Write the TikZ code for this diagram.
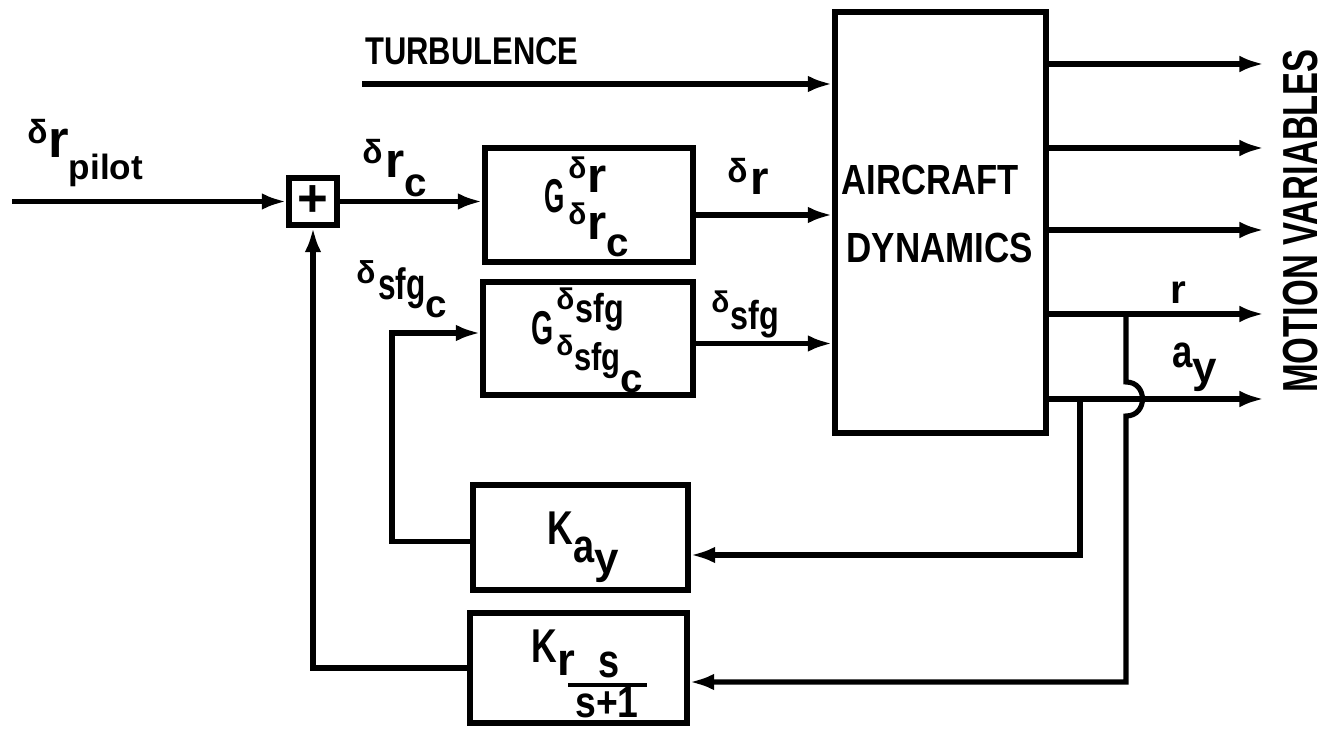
\documentclass[tikz,border=0pt]{standalone}
\usepackage{fontspec}
\setmainfont{Liberation Sans}
\usepackage{graphicx}
\usetikzlibrary{arrows.meta,calc}
\newcommand\fs[1]{\fontsize{#1}{#1}\selectfont}
\newcommand\sx[2]{\scalebox{#1}[1]{#2}}
\newcommand\dlt[2]{\raisebox{#1}{\fs{#2}δ}}
\newcommand\low[3]{\raisebox{-#1}{\fs{#2}#3}}
\begin{document}
\begin{tikzpicture}[x=0.02cm,y=-0.02cm,
  blk/.style={draw,line width=3pt,inner sep=0pt,rectangle},
  wire/.style={line width=2.9pt},
  arr/.style={wire,-{Latex[length=14pt,width=9.5pt]}},
  lab/.style={inner sep=0pt,anchor=base west,font=\bfseries},
  ttl/.style={inner sep=0pt,font=\bfseries}]
\useasboundingbox (0,0) rectangle (1328,732);

% blocks
\node[blk,minimum width=4.16cm,minimum height=2.28cm] (b1) at (589,205) {};
\node[blk,minimum width=4.2cm,minimum height=2.26cm] (b2) at (588,338.5) {};
\node[blk,minimum width=4.3cm,minimum height=2.1cm] (kay) at (580.5,537.5) {};
\node[blk,minimum width=4.34cm,minimum height=2.2cm] (kr) at (578.5,668) {};
\node[blk,minimum width=4.22cm,minimum height=8.42cm] (ac) at (940.5,222.5) {};
\node[blk,minimum width=0.96cm,minimum height=0.94cm,font=\bfseries\fs{30}] (sum) at (313,201.5) {+};

% block texts
\node[lab] (g1) at (544,213) {{\fs{27}\sx{0.55}{G}}};
\node[lab] (g1s) at (568,193) {\dlt{8.5pt}{17}\kern0.5pt{\fs{28}r}};
\node[lab] (g1b) at (568,240) {\dlt{9pt}{17}\kern0.5pt{\fs{28}r}\low{9.6pt}{23}{c}};
\node[lab] (g2) at (531,345) {{\fs{27}\sx{0.6}{G}}};
\node[lab] (g2s) at (556,323) {\dlt{7.4pt}{17}\kern0.5pt{\fs{23}\sx{0.8}{sfg}}};
\node[lab] (g2b) at (556,371) {\dlt{9pt}{16}\kern0.5pt{\fs{22}\sx{0.8}{sfg}}\low{12pt}{23}{c}};
\node[lab] (k1) at (547,545) {{\fs{27}\sx{0.75}{K}}\low{10pt}{27}{\sx{0.8}{a}}\low{16pt}{25}{y}};
\node[lab] (k2) at (531,662) {{\fs{27}\sx{0.75}{K}}\low{7.4pt}{26}{r}};
\node[ttl,anchor=base] (ks) at (609,677) {\fs{27}\sx{0.8}{s}};
\draw[line width=2.8pt] (568,685) -- (647,685);
\node[ttl,anchor=base] (ksp) at (607,717) {\fs{25}\sx{0.85}{s+1}};
\node[ttl,anchor=base] (act1) at (930,195) {\fs{24}\sx{0.82}{AIRCRAFT}};
\node[ttl,anchor=base] (act2) at (940,263) {\fs{24}\sx{0.83}{DYNAMICS}};

% signal labels
\node[lab] (lp) at (27,158) {\dlt{8.5pt}{19}\kern0.5pt{\fs{30}r}\low{12.5pt}{20}{pilot}};
\node[lab] (lrc) at (362,178) {\dlt{8.5pt}{19}\kern1.5pt{\fs{28}r}\low{10.8pt}{23}{c}};
\node[lab] (lr) at (727,195) {\dlt{7pt}{19}\kern1.5pt{\fs{27}r}};
\node[lab] (lsfg) at (711,330) {\dlt{10pt}{17}\kern0.5pt{\fs{23}\sx{0.8}{sfg}}};
\node[lab] (lsfgc) at (356,300) {\dlt{9.6pt}{18}\kern1.5pt{\fs{25}\sx{0.72}{sfg}}\low{10pt}{22}{c}};
\node[lab] (lor) at (1170,304) {\fs{23}r};
\node[lab] (lay) at (1172,368) {{\fs{26}\sx{0.8}{a}}\low{8.5pt}{25}{y}};
\node[lab] (turbt) at (365,65) {\fs{22}\sx{0.8}{TURBULENCE}};
\node[ttl,rotate=90] (mv) at (1301,221) {\fs{28}\sx{0.7}{MOTION VARIABLES}};

% forward path
\coordinate (pin) at (12,201.5);
\draw[arr] (pin) -- (sum.west);
\draw[arr] (sum.east) -- (sum.east -| b1.west);
\coordinate (turb) at (362,84);
\draw[arr] (turb) -- (turb -| ac.west);
\coordinate (d1) at ($(b1.east)+(0,10)$);
\draw[arr] (d1) -- (d1 -| ac.west);
\coordinate (d2) at ($(b2.east)+(0,5)$);
\draw[arr] (d2) -- (d2 -| ac.west);

% outputs
\foreach \yy/\nn in {64/o1,148/o2,230/o3,314/o4,399/o5}{
  \coordinate (\nn) at (1264,\yy);
  \draw[arr] (\nn -| ac.east) -- (\nn);
}

% a_y feedback
\coordinate (kayc) at (1080,555);
\draw[arr] (o5 -| kayc) -- (kayc) -- (kayc -| kay.east);
\coordinate (kb) at (392,541.5);
\coordinate (kt) at (392,333);
\draw[arr] (kb -| kay.west) -- (kb) -- (kt) -- (kt -| b2.west);

% r feedback
\coordinate (krc) at (1126,682);
\draw[arr] (o4 -| krc) -- ($(o5 -| krc)+(0,-17)$)
  .. controls ($(o5 -| krc)+(22,-17)$) and ($(o5 -| krc)+(22,17)$) .. ($(o5 -| krc)+(0,17)$)
  -- (krc) -- (krc -| kr.east);
\draw[arr] (kr.west) -- (kr.west -| sum.south) -- (sum.south);
\end{tikzpicture}
\end{document}
